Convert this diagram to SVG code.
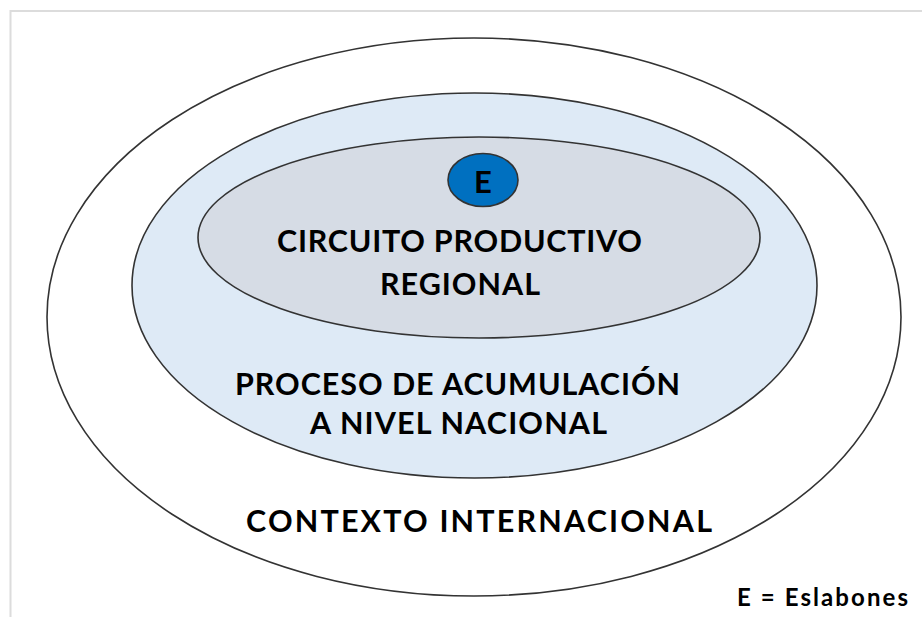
<svg xmlns="http://www.w3.org/2000/svg" width="922" height="617" viewBox="0 0 922 617">
<style>
.ring{stroke:#333;stroke-width:1.6}
.lbl{font-family:Lato,"Open Sans","Liberation Sans",sans-serif;font-weight:bold;fill:#000;text-anchor:middle}
</style>
<rect x="0" y="0" width="922" height="617" fill="#fff"/>
<rect x="10.5" y="11" width="930" height="630" fill="none" stroke="#dcdcdc" stroke-width="2"/>
<g id="contexto">
<ellipse class="ring" cx="474" cy="317" rx="427" ry="279" fill="#fff"/>
<text class="lbl" x="479" y="532" font-size="30.5" textLength="466">CONTEXTO INTERNACIONAL</text>
</g>
<g id="proceso">
<ellipse class="ring" cx="474.5" cy="285.5" rx="342.5" ry="192.5" fill="#deeaf6"/>
<text class="lbl" x="457.5" y="395" font-size="30.5" textLength="445">PROCESO DE ACUMULACIÓN</text>
<text class="lbl" x="458.5" y="434" font-size="30.5" textLength="297">A NIVEL NACIONAL</text>
</g>
<g id="circuito">
<ellipse class="ring" cx="479" cy="237.5" rx="281" ry="100.5" fill="#d6dce5"/>
<text class="lbl" x="459.5" y="252" font-size="30.5" textLength="365">CIRCUITO PRODUCTIVO</text>
<text class="lbl" x="460" y="295" font-size="30.5" textLength="160">REGIONAL</text>
</g>
<g id="eslabones">
<ellipse class="ring" cx="483" cy="180" rx="35" ry="26.5" fill="#0070c0"/>
<text class="lbl" x="483" y="193" font-size="31">E</text>
</g>
<g id="leyenda">
<text class="lbl" x="822.5" y="606" font-size="24" textLength="171">E = Eslabones</text>
</g>
<g id="connectors"></g>
</svg>
